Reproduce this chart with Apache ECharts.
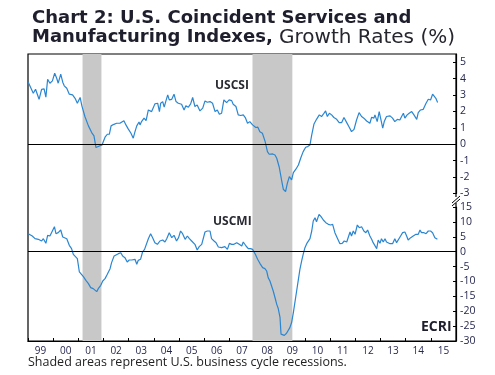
<!DOCTYPE html>
<html>
<head>
<meta charset="utf-8">
<script src="https://cdn.jsdelivr.net/npm/echarts@6/dist/echarts.min.js"></script>
<style>
  html, body { margin: 0; padding: 0; background: #fff; }
  #chart { width: 495px; height: 375px; }
</style>
</head>
<body>
<div id="chart"></div>
<script>
// year labels on the bottom axis (one band per year, 1999-2015)
const yearLabels = ['99', '00', '01', '02', '03', '04', '05', '06', '07', '08', '09', '10', '11', '12', '13', '14', '15']

// recessions (decimal years)
const recessions = [[2001.167, 2001.917], [2007.917, 2009.5]]

// USCSI growth rate (%)
const csiYear = [
  1999.01, 1999.21, 1999.30, 1999.44, 1999.54, 1999.64, 1999.71, 1999.78, 1999.87, 1999.97,
  2000.06, 2000.14, 2000.20, 2000.30, 2000.38, 2000.44, 2000.54, 2000.64, 2000.77, 2000.87, 2000.96,
  2001.07, 2001.14, 2001.26, 2001.40, 2001.53, 2001.62, 2001.70, 2001.79, 2001.86, 2001.94,
  2002.06, 2002.15, 2002.23, 2002.30, 2002.39, 2002.52, 2002.65, 2002.72, 2002.81, 2002.89, 2002.98,
  2003.09, 2003.18, 2003.25, 2003.32, 2003.41, 2003.45, 2003.51, 2003.61, 2003.69, 2003.78, 2003.85, 2003.91, 2003.98,
  2004.04, 2004.11, 2004.15, 2004.22, 2004.27, 2004.35, 2004.41, 2004.47, 2004.55, 2004.61, 2004.71, 2004.80, 2004.88, 2004.97,
  2005.10, 2005.20, 2005.27, 2005.37, 2005.46, 2005.54, 2005.63, 2005.72, 2005.83, 2005.94,
  2006.03, 2006.12, 2006.23, 2006.33, 2006.43, 2006.52, 2006.60, 2006.69, 2006.78, 2006.89, 2006.99,
  2007.09, 2007.15, 2007.26, 2007.35, 2007.45, 2007.55, 2007.63, 2007.72, 2007.81, 2007.92,
  2008.05, 2008.13, 2008.21, 2008.31, 2008.42, 2008.51, 2008.58, 2008.72, 2008.81, 2008.88, 2008.98,
  2009.07, 2009.14, 2009.23, 2009.30, 2009.38, 2009.47, 2009.54, 2009.64, 2009.74, 2009.83, 2009.93,
  2010.03, 2010.11, 2010.20, 2010.27, 2010.36, 2010.46, 2010.57, 2010.66, 2010.73, 2010.82, 2010.89, 2010.97,
  2011.06, 2011.15, 2011.26, 2011.36, 2011.46, 2011.55, 2011.66, 2011.76, 2011.85, 2011.95,
  2012.05, 2012.15, 2012.25, 2012.34, 2012.45, 2012.52, 2012.58, 2012.65, 2012.74, 2012.78, 2012.87, 2012.95,
  2013.02, 2013.09, 2013.15, 2013.24, 2013.38, 2013.48, 2013.57, 2013.67, 2013.77, 2013.84, 2013.91, 2013.97,
  2014.06, 2014.14, 2014.24, 2014.33, 2014.44, 2014.50, 2014.59, 2014.70, 2014.81, 2014.90, 2014.99,
  2015.07, 2015.14, 2015.20, 2015.27
]
const csiValue = [
  3.78, 3.11, 3.35, 2.74, 3.35, 3.37, 2.87, 3.96, 3.72, 3.86,
  4.33, 4.02, 3.72, 4.27, 3.78, 3.56, 3.41, 3.05, 3.01, 2.80, 2.50,
  2.85, 2.34, 1.69, 1.12, 0.71, 0.51, -0.20, -0.14, -0.24, -0.04,
  0.43, 0.61, 0.61, 1.12, 1.20, 1.28, 1.28, 1.26, 1.44, 1.18, 0.94,
  0.67, 0.37, 0.77, 1.12, 1.36, 1.18, 1.38, 1.59, 1.44, 2.09, 2.20, 1.99, 2.24,
  2.46, 2.34, 2.50, 1.99, 2.50, 2.60, 2.26, 2.60, 3.01, 2.70, 2.74, 3.05, 2.60, 2.50,
  2.44, 2.09, 2.34, 2.26, 2.46, 2.85, 2.30, 2.40, 2.03, 2.20,
  2.64, 2.56, 2.60, 2.50, 1.99, 2.09, 1.83, 1.89, 2.70, 2.54, 2.70,
  2.66, 2.44, 2.30, 1.79, 1.75, 1.79, 1.63, 1.28, 1.38, 1.18,
  1.02, 1.04, 0.77, 0.67, 0.16, -0.45, -0.61, -0.59, -0.65, -0.85, -1.40,
  -2.17, -2.74, -2.89, -2.38, -1.97, -2.17, -1.73, -1.52, -1.26, -0.85, -0.45,
  -0.18, -0.14, -0.04, 0.57, 1.24, 1.52, 1.79, 1.69, 1.83, 2.03, 1.69, 1.89,
  1.79, 1.63, 1.52, 1.32, 1.32, 1.63, 1.32, 1.04, 0.77, 0.91,
  1.48, 1.93, 1.69, 1.59, 1.42, 1.52, 1.28, 1.65, 1.59, 1.79, 1.38, 1.99,
  1.89, 0.98, 1.38, 1.69, 1.73, 1.59, 1.38, 1.52, 1.48, 1.69, 1.89, 1.59,
  1.79, 1.89, 1.99, 1.79, 1.52, 1.93, 2.09, 2.13, 2.50, 2.74, 2.70,
  3.05, 2.95, 2.80, 2.54
]

// USCMI growth rate (%)
const cmiYear = [
  1999.01, 1999.08, 1999.17, 1999.28, 1999.34, 1999.41, 1999.48, 1999.54, 1999.61, 1999.71, 1999.78, 1999.87, 1999.94,
  2000.05, 2000.11, 2000.20, 2000.30, 2000.38, 2000.44, 2000.54, 2000.64, 2000.73, 2000.80, 2000.87, 2000.96,
  2001.04, 2001.10, 2001.20, 2001.30, 2001.40, 2001.49, 2001.59, 2001.66, 2001.73, 2001.79, 2001.89, 2001.97,
  2002.06, 2002.15, 2002.26, 2002.32, 2002.42, 2002.49, 2002.59, 2002.68, 2002.76, 2002.85, 2002.94,
  2003.02, 2003.12, 2003.18, 2003.25, 2003.32, 2003.38, 2003.47, 2003.55, 2003.63, 2003.69, 2003.78, 2003.87, 2003.95,
  2004.04, 2004.14, 2004.24, 2004.35, 2004.44, 2004.51, 2004.61, 2004.71, 2004.80, 2004.90, 2004.98,
  2005.06, 2005.14, 2005.24, 2005.33, 2005.41, 2005.50, 2005.57, 2005.63, 2005.72, 2005.80, 2005.90, 2005.96,
  2006.03, 2006.12, 2006.23, 2006.29, 2006.39, 2006.47, 2006.56, 2006.63, 2006.69, 2006.76, 2006.82, 2006.92,
  2007.00, 2007.09, 2007.18, 2007.29, 2007.39, 2007.49, 2007.55, 2007.66, 2007.75, 2007.84, 2007.92,
  2008.03, 2008.12, 2008.21, 2008.32, 2008.41, 2008.48, 2008.54, 2008.61, 2008.74, 2008.81, 2008.88, 2008.94,
  2009.01, 2009.05, 2009.11, 2009.18, 2009.27, 2009.34, 2009.40, 2009.47, 2009.54, 2009.60, 2009.67, 2009.74, 2009.80, 2009.87, 2009.93,
  2010.00, 2010.07, 2010.13, 2010.20, 2010.27, 2010.33, 2010.40, 2010.46, 2010.56, 2010.64, 2010.73, 2010.83, 2010.93,
  2011.02, 2011.10, 2011.19, 2011.28, 2011.39, 2011.48, 2011.56, 2011.66, 2011.72, 2011.79, 2011.85, 2011.92, 2011.99,
  2012.08, 2012.16, 2012.25, 2012.34, 2012.42, 2012.49, 2012.58, 2012.65, 2012.71, 2012.78, 2012.85, 2012.91, 2012.98,
  2013.04, 2013.11, 2013.18, 2013.24, 2013.31, 2013.38, 2013.48, 2013.57, 2013.64, 2013.71, 2013.80, 2013.88, 2013.97,
  2014.04, 2014.10, 2014.20, 2014.30, 2014.41, 2014.50, 2014.57, 2014.63, 2014.73, 2014.81, 2014.90, 2014.99,
  2015.07, 2015.16, 2015.26
]
const cmiValue = [
  6.04, 5.59, 5.26, 4.36, 5.03, 4.14, 4.70, 3.58, 4.36, 2.80, 5.48, 5.26, 5.82,
  8.39, 6.04, 6.38, 7.27, 4.92, 5.26, 4.36, 2.13, 1.01, -0.90, -1.45, -2.35,
  -6.82, -7.05, -8.39, -9.62, -10.74, -12.08, -12.42, -12.64, -13.42, -12.42, -11.30, -9.84,
  -9.06, -7.61, -5.70, -3.69, -1.45, -0.89, -0.67, -0.34, -1.45, -2.01, -3.47,
  -2.80, -2.80, -3.13, -2.57, -4.25, -2.91, -2.57, -0.11, 0.78, 0.22, 4.36, 6.04, 4.70,
  3.02, 2.46, 3.58, 3.91, 3.24, 4.36, 6.38, 4.70, 5.48, 3.58, 4.70,
  6.94, 6.04, 4.14, 5.26, 4.36, 3.58, 3.02, 2.46, 0.56, 1.68, 2.46, 3.02,
  6.60, 6.94, 6.94, 4.36, 3.58, 3.02, 1.57, 1.34, 1.34, 0.78, 1.68, 0.78,
  2.80, 2.46, 2.46, 3.02, 2.46, 1.90, 3.24, 1.90, 1.01, 1.01, 0.78,
  -0.89, -2.57, -3.91, -5.37, -5.70, -6.49, -8.72, -9.84, -13.2, -15.4, -17.7, -19.1,
  -22.1, -27.7, -27.2, -28.1, -27.4, -27.0, -25.5, -23.8, -20.5, -17.1, -13.2, -9.28, -5.93, -3.13, -0.89,
  1.34, 2.68, 3.24, 4.36, 6.94, 10.29, 11.41, 10.07, 12.53, 11.74, 10.63, 9.73, 9.17,
  8.95, 9.17, 6.38, 4.70, 2.68, 2.80, 3.58, 3.24, 2.80, 6.60, 5.26, 6.94, 5.82,
  8.95, 8.05, 8.39, 6.94, 6.38, 7.27, 5.26, 4.14, 3.02, 3.24, 1.01, 3.91, 2.80,
  4.36, 3.24, 4.36, 3.24, 3.02, 2.68, 2.68, 4.36, 3.02, 3.58, 5.26, 6.38, 6.60,
  5.26, 3.91, 4.70, 5.26, 5.82, 5.82, 7.27, 6.38, 6.38, 6.04, 6.94, 6.94,
  6.38, 4.70, 4.14
]

const lineColor = '#2a86d1'
const labelColor = '#26284f'
const font = '"Open Sans", sans-serif'
const titleFont = '"DejaVu Sans", sans-serif'

const zip = (xs, ys) => xs.map((x, i) => [x, ys[i]])

const zeroLine = {
  silent: true,
  symbol: 'none',
  label: { show: false },
  lineStyle: { color: '#000', width: 1.2, type: 'solid' },
  data: [{ yAxis: 0 }]
}

const chart = echarts.init(document.getElementById('chart'))

const option = {
  animation: false,
  backgroundColor: '#fff',
  title: {
    left: 27,
    top: 4,
    text: 'Chart 2: U.S. Coincident Services and\nManufacturing Indexes, {r|Growth Rates (%)}',
    textStyle: {
      fontFamily: titleFont,
      fontSize: 18,
      fontWeight: 'bold',
      color: '#1e1e2c',
      lineHeight: 19,
      rich: {
        r: { fontFamily: titleFont, fontSize: 20, fontWeight: 'normal', color: '#26262f', lineHeight: 19 }
      }
    }
  },
  grid: [
    { left: 28, right: 39, top: 54, height: 139.5 },
    { left: 28, right: 39, top: 207, height: 134 },
    { left: 28, right: 39, top: 54, bottom: 34, show: true, borderColor: '#000', borderWidth: 1.2 }
  ],
  xAxis: [
    { gridIndex: 0, type: 'value', min: 1999, max: 2016, show: false },
    { gridIndex: 1, type: 'value', min: 1999, max: 2016, show: false },
    {
      gridIndex: 1,
      type: 'category',
      position: 'bottom',
      data: yearLabels,
      boundaryGap: true,
      axisLine: { show: true, lineStyle: { color: '#000', width: 1.2 } },
      axisTick: { show: true, inside: true, length: 3, lineStyle: { color: '#000' } },
      axisLabel: { color: labelColor, fontFamily: font, fontSize: 10, margin: 5 },
      splitLine: { show: false }
    },
    { gridIndex: 2, type: 'value', min: 1999, max: 2016, show: false }
  ],
  yAxis: [
    {
      gridIndex: 0,
      type: 'value',
      position: 'right',
      min: -3,
      max: 5.5,
      interval: 1,
      axisLine: { show: true, lineStyle: { color: '#000', width: 1.2 } },
      axisTick: { show: true, inside: true, length: 3, lineStyle: { color: '#000' } },
      axisLabel: {
        color: labelColor, fontFamily: font, fontSize: 10.5, margin: 4,
        showMaxLabel: false,
        formatter: v => (Number.isInteger(v) ? String(v) : '')
      },
      splitLine: { show: false }
    },
    {
      gridIndex: 1,
      type: 'value',
      position: 'right',
      min: -30,
      max: 15,
      interval: 5,
      axisLine: { show: true, lineStyle: { color: '#000', width: 1.2 } },
      axisTick: { show: true, inside: true, length: 3, lineStyle: { color: '#000' } },
      axisLabel: { color: labelColor, fontFamily: font, fontSize: 10.5, margin: 4 },
      splitLine: { show: false }
    },
    { gridIndex: 2, type: 'value', min: 0, max: 1, show: false }
  ],
  series: [
    {
      // recession shading across both panels
      type: 'line',
      xAxisIndex: 3,
      yAxisIndex: 2,
      z: 1,
      symbol: 'none',
      silent: true,
      lineStyle: { opacity: 0 },
      data: [[1999, 0], [2016, 0]],
      markArea: {
        silent: true,
        itemStyle: { color: '#c8c8c8' },
        data: recessions.map(r => [{ xAxis: r[0] }, { xAxis: r[1] }])
      }
    },
    {
      name: 'USCSI',
      type: 'line',
      xAxisIndex: 0,
      yAxisIndex: 0,
      z: 3,
      showSymbol: false,
      lineStyle: { color: lineColor, width: 1.2 },
      data: zip(csiYear, csiValue),
      markLine: zeroLine
    },
    {
      name: 'USCMI',
      type: 'line',
      xAxisIndex: 1,
      yAxisIndex: 1,
      z: 3,
      showSymbol: false,
      lineStyle: { color: lineColor, width: 1.2 },
      data: zip(cmiYear, cmiValue),
      markLine: zeroLine
    }
  ],
  graphic: [
    {
      type: 'text', left: 215, top: 80,
      style: { text: 'USCSI', font: 'bold 12px "Open Sans", sans-serif', fill: '#2a2a33' }
    },
    {
      type: 'text', left: 213, top: 216,
      style: { text: 'USCMI', font: 'bold 12px "Open Sans", sans-serif', fill: '#2a2a33' }
    },
    {
      type: 'text', left: 421, top: 320,
      style: { text: 'ECRI', font: 'bold 14px "Open Sans", sans-serif', fill: '#1e1e2c' }
    },
    {
      type: 'text', left: 28, top: 356,
      style: { text: 'Shaded areas represent U.S. business cycle recessions.', font: '12.5px "Open Sans", sans-serif', fill: '#222' }
    },
    // axis break mark
    { type: 'rect', shape: { x: 453, y: 197, width: 7, height: 6 }, style: { fill: '#fff' }, z: 10 },
    { type: 'line', shape: { x1: 452, y1: 203, x2: 460, y2: 196 }, style: { stroke: '#000', lineWidth: 1 }, z: 11 },
    { type: 'line', shape: { x1: 452, y1: 206, x2: 460, y2: 199 }, style: { stroke: '#000', lineWidth: 1 }, z: 11 }
  ]
}

chart.setOption(option)
</script>
</body>
</html>
